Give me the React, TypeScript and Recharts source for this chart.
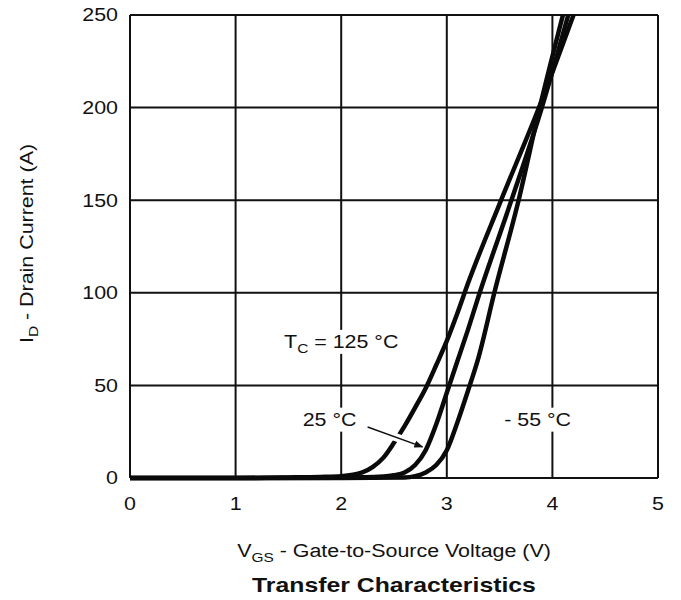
import React from "react";
import { LineChart, Line, XAxis, YAxis, CartesianGrid, ReferenceDot, ReferenceLine } from "recharts";

// V_GS ticks and I_D ticks
const xTicks = [0, 1, 2, 3, 4, 5];
const yTicks = [0, 50, 100, 150, 200, 250];

// Tc = 125 °C
const vgs125 = [0, 0.5, 1.0, 1.5, 1.8, 2.0, 2.2, 2.3, 2.4, 2.5, 2.6, 2.7, 2.8, 2.9, 3.0, 3.1, 3.2, 3.5, 3.9, 4.2];
const id125 = [0, 0, 0, 0.3, 0.6, 1, 3, 6, 11, 19, 28, 38, 48.5, 61, 74, 89, 105, 148, 204, 250];

// Tc = 25 °C
const vgs25 = [0, 1, 2, 2.4, 2.5, 2.6, 2.7, 2.8, 2.9, 3.0, 3.1, 3.2, 3.3, 3.6, 3.9, 4.15];
const id25 = [0, 0, 0.2, 0.8, 1.5, 3, 7, 15, 29, 46, 63, 80, 98, 148, 200, 250];

// Tc = -55 °C
const vgs55 = [0, 1, 2, 2.6, 2.7, 2.8, 2.9, 3.0, 3.1, 3.2, 3.3, 3.45, 3.68, 3.88, 4.1];
const id55 = [0, 0, 0, 0.3, 1, 3, 7, 15, 30, 47, 65, 100, 150, 200, 250];

const toRows = (xs: number[], ys: number[]) => xs.map((v, i) => ({ vgs: v, id: ys[i] }));

const FONT = "'Liberation Sans', Arial, sans-serif";
const INK = "#111";
const SX = 1.19; // the original lettering is a little wider than Arial

const XTick = ({ x, y, payload }: any) => (
  <text transform={`translate(${x},${y}) scale(${SX},1)`} textAnchor="middle" dy="0.71em" fontSize={18} fontFamily={FONT} fill={INK}>
    {payload.value}
  </text>
);

const YTick = ({ x, y, payload }: any) => (
  <text transform={`translate(${x},${y}) scale(${SX},1)`} textAnchor="end" dy="0.36em" fontSize={18} fontFamily={FONT} fill={INK}>
    {payload.value}
  </text>
);

const XTitle = ({ viewBox }: any) => {
  const cx = viewBox.x + viewBox.width / 2;
  return (
    <g fontFamily={FONT} fill={INK}>
      <text transform={`translate(${cx},${viewBox.y + 79}) scale(${SX},1)`} textAnchor="middle" fontSize={18}>
        V<tspan fontSize={13} dy={5}>GS</tspan>
        <tspan dy={-5}> - Gate-to-Source Voltage (V)</tspan>
      </text>
      <text transform={`translate(${cx},${viewBox.y + 114}) scale(1.24,1)`} textAnchor="middle" fontSize={20} fontWeight="bold">
        Transfer Characteristics
      </text>
    </g>
  );
};

const YTitle = ({ viewBox }: any) => {
  const x = 33;
  const y = viewBox.y + viewBox.height / 2 - 3;
  return (
    <text transform={`translate(${x},${y}) rotate(-90) scale(${SX},1)`} textAnchor="middle" fontSize={18} fontFamily={FONT} fill={INK}>
      I<tspan fontSize={13} dy={5}>D</tspan>
      <tspan dy={-5}> - Drain Current (A)</tspan>
    </text>
  );
};

// text note with a white box behind it (breaks the grid lines like the original)
const note = (main: string, sub: string | null, rest: string, w: number) => (p: any) => (
  <g fontFamily={FONT} fill={INK}>
    <rect x={p.cx - w / 2} y={p.cy - 12} width={w} height={24} fill="#fff" />
    <text transform={`translate(${p.cx},${p.cy + 6.5}) scale(${SX},1)`} textAnchor="middle" fontSize={18}>
      {main}
      {sub && <tspan fontSize={13} dy={5}>{sub}</tspan>}
      <tspan dy={sub ? -5 : 0}>{rest}</tspan>
    </text>
  </g>
);

export default function App() {
  return (
    <div style={{ position: "absolute", left: 0, top: 0, background: "#fff" }}>
      <LineChart width={681} height={600} margin={{ top: 15, right: 23, bottom: 92, left: 70 }}>
        <defs>
          <marker id="arrowHead" viewBox="0 0 10 10" refX="9" refY="5" markerWidth="6" markerHeight="6" orient="auto">
            <path d="M0,1 L10,5 L0,9 z" fill={INK} />
          </marker>
        </defs>
        <CartesianGrid stroke={INK} strokeWidth={2} />
        <XAxis
          type="number"
          dataKey="vgs"
          domain={[0, 5]}
          ticks={xTicks}
          allowDuplicatedCategory={false}
          axisLine={false}
          tickLine={false}
          tickSize={0}
          tickMargin={19}
          height={30}
          tick={<XTick />}
          label={{ content: (p: any) => <XTitle {...p} /> }}
        />
        <YAxis
          type="number"
          domain={[0, 250]}
          ticks={yTicks}
          axisLine={false}
          tickLine={false}
          tickSize={0}
          tickMargin={12}
          width={60}
          tick={<YTick />}
          label={{ content: (p: any) => <YTitle {...p} /> }}
        />
        <Line data={toRows(vgs125, id125)} dataKey="id" type="monotone" stroke="#0a0a0a" strokeWidth={4.5} dot={false} isAnimationActive={false} />
        <Line data={toRows(vgs25, id25)} dataKey="id" type="monotone" stroke="#0a0a0a" strokeWidth={4.5} dot={false} isAnimationActive={false} />
        <Line data={toRows(vgs55, id55)} dataKey="id" type="monotone" stroke="#0a0a0a" strokeWidth={4.5} dot={false} isAnimationActive={false} />
        <ReferenceLine segment={[{ x: 2.25, y: 27.5 }, { x: 2.77, y: 16.8 }]} stroke="#fff" strokeWidth={8} />
        <ReferenceLine segment={[{ x: 2.25, y: 27.5 }, { x: 2.77, y: 16.8 }]} stroke={INK} strokeWidth={1.5} markerEnd="url(#arrowHead)" />
        <ReferenceDot x={2.0} y={73.5} r={1} shape={note("T", "C", " = 125 °C", 122)} />
        <ReferenceDot x={1.89} y={31.5} r={1} shape={note("25 °C", null, "", 62)} />
        <ReferenceDot x={3.86} y={31.5} r={1} shape={note("- 55 °C", null, "", 72)} />
      </LineChart>
    </div>
  );
}
